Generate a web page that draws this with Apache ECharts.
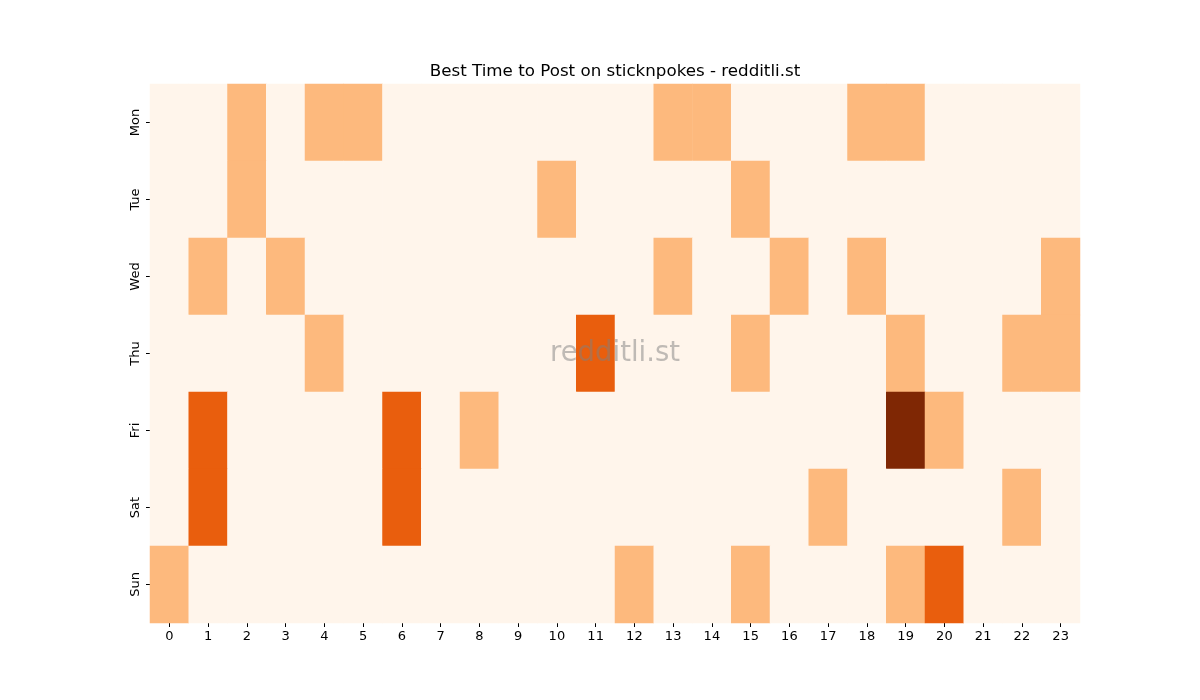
<!DOCTYPE html>
<html>
<head>
<meta charset="utf-8">
<style>
  html, body { margin: 0; padding: 0; background: #fff; }
  #chart { width: 1200px; height: 700px; }
</style>
<script src="https://cdn.jsdelivr.net/npm/echarts@6/dist/echarts.min.js"></script>
</head>
<body>
<div id="chart"></div>
<script>
// hours on x, days on y
const hours = ['0','1','2','3','4','5','6','7','8','9','10','11','12','13','14','15','16','17','18','19','20','21','22','23'];
const days = ['Mon', 'Tue', 'Wed', 'Thu', 'Fri', 'Sat', 'Sun'];

// post counts, one row per day, one value per hour
const mon = [0,0,1,0,1,1,0,0,0,0,0,0,0,1,1,0,0,0,1,1,0,0,0,0];
const tue = [0,0,1,0,0,0,0,0,0,0,1,0,0,0,0,1,0,0,0,0,0,0,0,0];
const wed = [0,1,0,1,0,0,0,0,0,0,0,0,0,1,0,0,1,0,1,0,0,0,0,1];
const thu = [0,0,0,0,1,0,0,0,0,0,0,2,0,0,0,1,0,0,0,1,0,0,1,1];
const fri = [0,2,0,0,0,0,2,0,1,0,0,0,0,0,0,0,0,0,0,3,1,0,0,0];
const sat = [0,2,0,0,0,0,2,0,0,0,0,0,0,0,0,0,0,1,0,0,0,0,1,0];
const sun = [1,0,0,0,0,0,0,0,0,0,0,0,1,0,0,1,0,0,0,1,2,0,0,0];
const rows = [mon, tue, wed, thu, fri, sat, sun];

const heatData = [];
rows.forEach((row, d) => {
  row.forEach((v, h) => heatData.push([h, d, v]));
});

const chart = echarts.init(document.getElementById('chart'));
const font = 'DejaVu Sans';

chart.setOption({
  animation: false,
  backgroundColor: '#ffffff',
  grid: { left: 150, right: 120, top: 84, bottom: 77 },
  xAxis: {
    type: 'category',
    data: hours,
    axisLine: { show: false },
    axisTick: { show: true, alignWithLabel: true, length: 4, lineStyle: { color: '#000' } },
    axisLabel: { fontFamily: font, fontSize: 13, color: '#000', margin: 7 },
    splitLine: { show: false }
  },
  yAxis: {
    type: 'category',
    data: days,
    inverse: true,
    axisLine: { show: false },
    axisTick: { show: true, alignWithLabel: true, length: 4, lineStyle: { color: '#000' } },
    axisLabel: { fontFamily: font, fontSize: 13, color: '#000', rotate: 90, margin: 8 },
    splitLine: { show: false }
  },
  visualMap: {
    show: false,
    type: 'piecewise',
    dimension: 2,
    pieces: [
      { value: 0, color: '#fff5eb' },
      { value: 1, color: '#fdb97d' },
      { value: 2, color: '#e95e0d' },
      { value: 3, color: '#7f2704' }
    ]
  },
  series: [{
    type: 'heatmap',
    data: heatData,
    itemStyle: { borderWidth: 0 },
    emphasis: { disabled: true }
  }],
  graphic: [{
    type: 'text',
    x: 615,
    y: 71.5,
    style: {
      text: 'Best Time to Post on sticknpokes - redditli.st',
      fontFamily: font,
      fontSize: 16.7,
      fill: '#000',
      align: 'center',
      verticalAlign: 'middle'
    }
  }, {
    type: 'text',
    x: 615,
    y: 354,
    z: 100,
    style: {
      text: 'redditli.st',
      fontFamily: font,
      fontSize: 27.5,
      fill: 'rgba(128,128,128,0.5)',
      align: 'center',
      verticalAlign: 'middle'
    }
  }]
});
</script>
</body>
</html>
